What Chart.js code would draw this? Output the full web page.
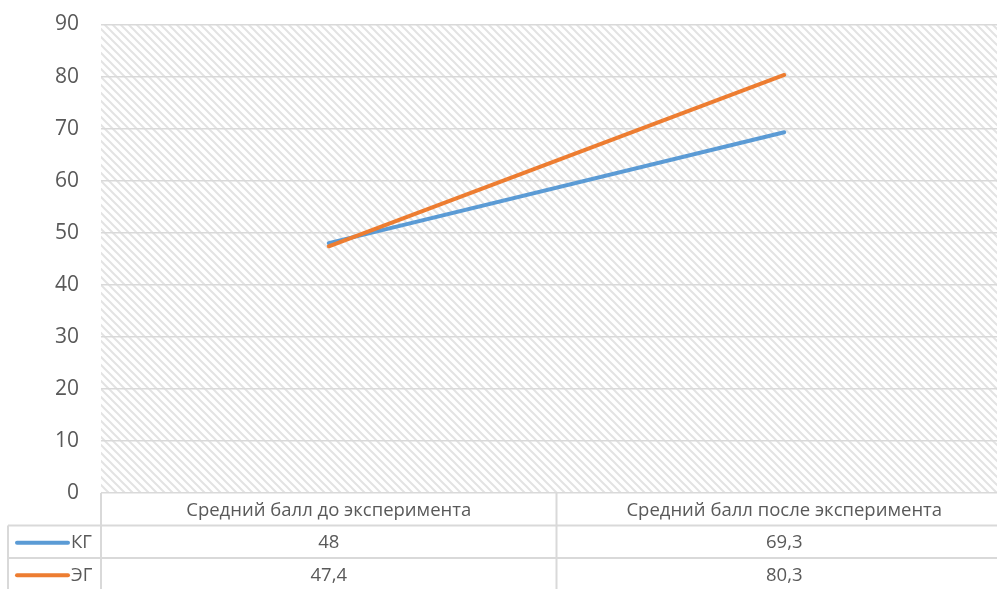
<!DOCTYPE html>
<html lang="ru">
<head>
<meta charset="utf-8">
<title>Средний балл</title>
<script src="https://cdn.jsdelivr.net/npm/chart.js@4.4.1/dist/chart.umd.min.js"></script>
<style>
  html, body { margin: 0; padding: 0; background: #ffffff; overflow: hidden; }
  #wrap { position: absolute; left: 0; top: 0; width: 1012px; height: 589px; }
</style>
</head>
<body>
<div id="wrap"><canvas id="chart" width="1012" height="589"></canvas></div>
<script>
// Categories and series
const categories = ['Средний балл до эксперимента', 'Средний балл после эксперимента'];
const seriesNames = ['КГ', 'ЭГ'];
const kgValues = [48, 69.3];
const egValues = [47.4, 80.3];
const yTicks = [0, 10, 20, 30, 40, 50, 60, 70, 80, 90];

const TEXT = '#595959';
const LINE = '#d9d9d9';
const FONT = '"Open Sans", "Noto Sans", sans-serif';

// Diagonal hatch used as the plot background
function makeHatch(ctx) {
  const tile = document.createElement('canvas');
  tile.width = 8; tile.height = 8;
  const t = tile.getContext('2d');
  t.fillStyle = '#ffffff';
  t.fillRect(0, 0, 8, 8);
  t.strokeStyle = '#e3e3e3';
  t.lineWidth = 2;
  t.beginPath();
  t.moveTo(-2, -2); t.lineTo(10, 10);
  t.moveTo(-2, 6); t.lineTo(2, 10);
  t.moveTo(6, -2); t.lineTo(10, 2);
  t.stroke();
  return ctx.createPattern(tile, 'repeat');
}

const fmt = v => String(v).replace('.', ',');

const hatchBackground = {
  id: 'hatchBackground',
  beforeDraw(chart) {
    const { ctx, chartArea: a } = chart;
    ctx.save();
    ctx.fillStyle = makeHatch(ctx);
    ctx.fillRect(a.left, a.top, a.right - a.left, a.bottom - a.top);
    ctx.restore();
  }
};

// Data table with legend keys under the plot
const dataTable = {
  id: 'dataTable',
  afterDraw(chart) {
    const { ctx, chartArea: a } = chart;
    const xs = chart.scales.x;
    const centers = categories.map((_, i) => xs.getPixelForValue(i));
    const bounds = [a.left];
    for (let i = 0; i < centers.length - 1; i++) bounds.push((centers[i] + centers[i + 1]) / 2);
    bounds.push(a.right);

    const top = a.bottom;
    const rowH = 32.5;
    const keyLeft = 8;
    const rows = [top, top + rowH, top + 2 * rowH, top + 3 * rowH];

    ctx.save();
    ctx.strokeStyle = LINE;
    ctx.lineWidth = 2;
    ctx.beginPath();
    // horizontal rules
    ctx.moveTo(keyLeft, rows[1]); ctx.lineTo(a.right, rows[1]);
    ctx.moveTo(keyLeft, rows[2]); ctx.lineTo(a.right, rows[2]);
    // vertical rules
    bounds.forEach(x => { ctx.moveTo(x, top); ctx.lineTo(x, rows[3] + 5); });
    ctx.moveTo(keyLeft, rows[1]); ctx.lineTo(keyLeft, rows[3] + 5);
    ctx.stroke();

    ctx.fillStyle = TEXT;
    ctx.textAlign = 'center';
    ctx.textBaseline = 'middle';
    ctx.font = '18.5px ' + FONT;
    categories.forEach((c, i) => ctx.fillText(c, centers[i], (rows[0] + rows[1]) / 2 + 1));

    chart.data.datasets.forEach((ds, r) => {
      const y = (rows[r + 1] + rows[r + 2]) / 2 + 1;
      ctx.fillStyle = TEXT;
      ctx.textAlign = 'center';
      ds.data.forEach((v, i) => ctx.fillText(fmt(v), centers[i], y));
      // legend key
      ctx.strokeStyle = ds.borderColor;
      ctx.lineWidth = 4;
      ctx.lineCap = 'round';
      ctx.beginPath();
      ctx.moveTo(17, y); ctx.lineTo(68, y);
      ctx.stroke();
      ctx.textAlign = 'left';
      ctx.fillText(ds.label, 71, y);
    });
    ctx.restore();
  }
};

new Chart(document.getElementById('chart'), {
  type: 'line',
  data: {
    labels: categories,
    datasets: [
      { label: seriesNames[0], data: kgValues, borderColor: '#5b9bd5', backgroundColor: '#5b9bd5', order: 2 },
      { label: seriesNames[1], data: egValues, borderColor: '#ed7d31', backgroundColor: '#ed7d31', order: 1 }
    ]
  },
  options: {
    responsive: false,
    animation: false,
    devicePixelRatio: 1,
    layout: { padding: { top: 24.5, bottom: 96, left: 0, right: 0 } },
    elements: {
      line: { borderWidth: 4, tension: 0, borderCapStyle: 'round', borderJoinStyle: 'round' },
      point: { radius: 0, hoverRadius: 0 }
    },
    plugins: { legend: { display: false }, tooltip: { enabled: false } },
    scales: {
      x: { type: 'category', offset: true, display: false },
      y: {
        min: 0, max: 90,
        afterFit(s) { s.width = 101; s.paddingTop = 0; s.paddingBottom = 0; },
        afterBuildTicks(s) { s.ticks = yTicks.map(v => ({ value: v })); },
        border: { display: false },
        grid: { color: LINE, lineWidth: 1.5, drawTicks: false },
        ticks: { color: TEXT, padding: 22, font: { size: 21, family: FONT } }
      }
    }
  },
  plugins: [hatchBackground, dataTable]
});
</script>
</body>
</html>
